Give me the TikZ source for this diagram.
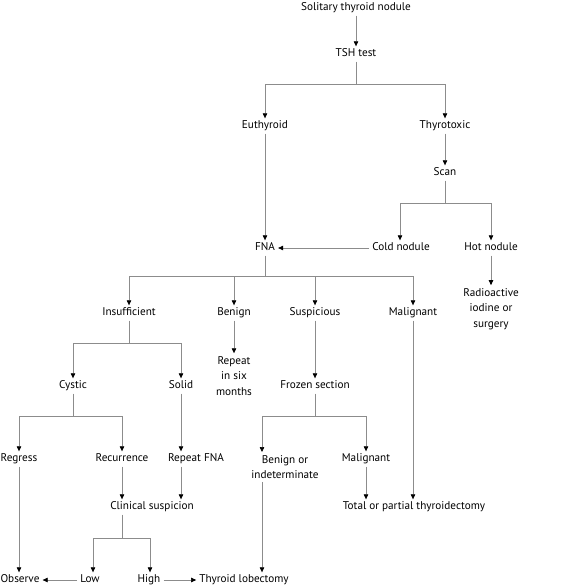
\documentclass[tikz,border=0pt]{standalone}
\usepackage{fontspec}
\setmainfont{PT Sans}
\usetikzlibrary{arrows.meta}

\begin{document}
\begin{tikzpicture}[
  x=1pt,
  y=-1pt,
  textbase/.style={
    inner xsep=3pt,
    inner ysep=2.5pt,
    align=center,
    font=\fontsize{11.2}{15.5}\selectfont
  },
  label/.style={
    textbase,
    text height=7.5pt,
    text depth=2.5pt
  },
  multilabel/.style={
    textbase,
    inner ysep=3pt
  },
  link/.style={
    draw=black!45,
    line width=0.6pt
  },
  arrow/.style={
    link,
    -{Triangle[length=5pt, width=4.5pt, color=black]}
  }
]
\useasboundingbox (0,0) rectangle (576,588);

% Top of the tree
\node[label] (solitary) at (356,8) {Solitary thyroid nodule};
\node[label] (tsh) at (356,54) {TSH test};
\node[label] (euth) at (265,126) {Euthyroid};
\node[label] (thyro) at (445,126) {Thyrotoxic};
\node[label] (scan) at (445,173) {Scan};
\node[label] (fna) at (265,248) {FNA};
\node[label] (cold) at (401,248) {Cold nodule};
\node[label] (hot) at (491,248) {Hot nodule};
\node[multilabel] (radio) at (491,309) {Radioactive\\iodine or\\surgery};

% FNA results
\node[label] (ins) at (129,313) {Insufficient};
\node[label] (benign) at (234,313) {Benign};
\node[label] (susp) at (315,313) {Suspicious};
\node[label] (malig) at (413,313) {Malignant};
\node[multilabel] (repeat) at (234,376) {Repeat\\in six\\months};
\node[label] (cystic) at (73,386) {Cystic};
\node[label] (solid) at (181,386) {Solid};
\node[label] (frozen) at (315,386) {Frozen section};

% Lower levels
\node[label] (regress) at (19,459) {Regress};
\node[label] (recur) at (122,459) {Recurrence};
\node[label] (rfna) at (196,459) {Repeat FNA};
\node[multilabel] (bind) at (285,467) {Benign or\\indeterminate};
\node[label] (malig2) at (366,459) {Malignant};
\node[label] (clin) at (152,507) {Clinical suspicion};
\node[label] (total) at (414,507) {Total or partial thyroidectomy};
\node[label] (observe) at (20,580) {Observe};
\node[label] (low) at (90,580) {Low};
\node[label] (high) at (149,580) {High};
\node[label] (lobect) at (244,580) {Thyroid lobectomy};

% Branch points
\coordinate (tshsplit) at (356,84);
\coordinate (scansplit) at (445,203);
\coordinate (fnasplit) at (265,276);
\coordinate (inssplit) at (129,343);
\coordinate (cysticsplit) at (73,416);
\coordinate (frozensplit) at (315,416);
\coordinate (clinsplit) at (122,538);

% Connectors
\draw[arrow] (solitary) -- (tsh);
\draw[link] (tsh) -- (tshsplit);
\draw[arrow] (tshsplit) -| (euth);
\draw[arrow] (tshsplit) -| (thyro);
\draw[arrow] (thyro) -- (scan);
\draw[link] (scan) -- (scansplit);
\draw[arrow] (scansplit) -| ([xshift=-1pt]cold.north);
\draw[arrow] (scansplit) -| (hot);
\draw[arrow] (euth) -- (fna);
\draw[arrow] (cold) -- (fna);
\draw[arrow] (hot) -- (radio);

\draw[link] (fna) -- (fnasplit);
\draw[arrow] (fnasplit) -| (ins);
\draw[arrow] (fnasplit) -| (benign);
\draw[arrow] (fnasplit) -| (susp);
\draw[arrow] (fnasplit) -| (malig);
\draw[arrow] (benign) -- (repeat);
\draw[arrow] (susp) -- (frozen);

\draw[link] (ins) -- (inssplit);
\draw[arrow] (inssplit) -| (cystic);
\draw[arrow] (inssplit) -| (solid);
\draw[link] (cystic) -- (cysticsplit);
\draw[arrow] (cysticsplit) -| (regress);
\draw[arrow] (cysticsplit) -| (recur);
\draw[arrow] (solid) -- (solid |- rfna.north);
\draw[link] (frozen) -- (frozensplit);
\draw[arrow] (frozensplit) -| ([xshift=-23pt]bind.north);
\draw[arrow] (frozensplit) -| (malig2);

\draw[arrow] (malig) -- (malig |- total.north);
\draw[arrow] (malig2) -- (malig2 |- total.north);
\draw[arrow] (recur) -- (recur |- clin.north);
\draw[arrow] (rfna.south -| solid) -- (solid |- clin.north);
\draw[link] (clin.south -| recur) -- (clinsplit);
\draw[arrow] (clinsplit) -| ([xshift=3pt]low.north);
\draw[arrow] (clinsplit) -| ([xshift=1pt]high.north);
\draw[arrow] (regress) -- (regress |- observe.north);
\draw[arrow] (low) -- (observe);
\draw[arrow] (high) -- (lobect);
\draw[arrow] ([xshift=-23pt]bind.south) -- ([xshift=-23pt]bind.south |- lobect.north);

\end{tikzpicture}
\end{document}
